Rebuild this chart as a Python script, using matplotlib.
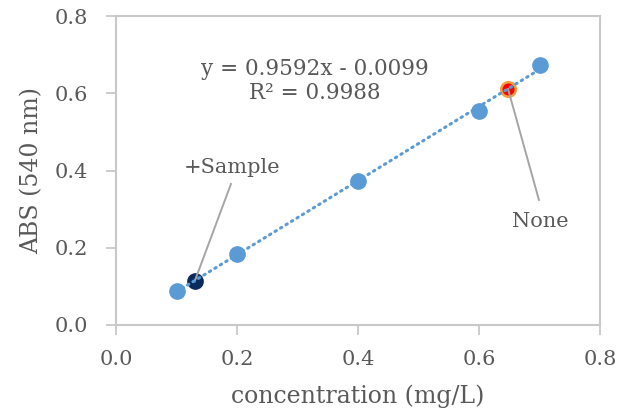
import matplotlib
matplotlib.use("Agg")
import matplotlib.pyplot as plt
import numpy as np

plt.rcParams['font.family'] = ['DejaVu Serif']

conc = [0.1, 0.2, 0.4, 0.6, 0.7]
absb = [0.088, 0.184, 0.373, 0.554, 0.673]
sample_x, sample_y = [0.13], [0.113]
none_x, none_y = [0.648], [0.611]
slope, intercept = 0.9592, -0.0099
eq_text = "y = 0.9592x - 0.0099\nR² = 0.9988"
xticks = [0.0, 0.2, 0.4, 0.6, 0.8]
yticks = [0.0, 0.2, 0.4, 0.6, 0.8]

blue = '#5B9BD5'
textc = '#595959'
gridc = '#C8C8C8'

fig = plt.figure(figsize=(6.3, 4.12), dpi=100)
ax = fig.add_axes([116/630, (412-325)/412, (600-116)/630, (325-16)/412])

ax.plot(conc, absb, 'o', color=blue, markersize=11, zorder=3)
ax.plot(sample_x, sample_y, 'o', color='#0B2A5C', markersize=11, zorder=3)
ax.plot(none_x, none_y, 'o', color='#FF0000', markeredgecolor='#F4A040',
        markeredgewidth=1.8, markersize=10.5, zorder=3)

# leader lines
ax.plot([0.190, sample_x[0]], [0.365, sample_y[0]], color='#A5A5A5', lw=1.4, zorder=3.5)
ax.plot([0.699, none_x[0]], [0.324, none_y[0]], color='#A5A5A5', lw=1.4, zorder=3.5)

tx = np.array([min(conc), max(conc)])
ax.plot(tx, slope*tx + intercept, color=blue, linewidth=2.2,
        linestyle=(0, (0.5, 1.6)), dash_capstyle='round', zorder=4)

ax.text(0.192, 0.409, '+Sample', ha='center', va='center', fontsize=15, color=textc)
ax.text(0.701, 0.267, 'None', ha='center', va='center', fontsize=15, color=textc)

ax.text(0.329, 0.632, eq_text, ha='center', va='center', fontsize=15.5,
        color=textc, linespacing=1.1)

ax.set_xlim(0, 0.8)
ax.set_ylim(0, 0.8)
ax.set_xticks(xticks)
ax.set_yticks(yticks)
ax.set_xticklabels([f"{v:.1f}" for v in xticks])
ax.set_yticklabels([f"{v:.1f}" for v in yticks])
for s in ax.spines.values():
    s.set_color(gridc)
    s.set_linewidth(1.5)
ax.tick_params(direction='out', length=7, width=1.3, color=gridc,
               labelcolor=textc, labelsize=15)
ax.tick_params(axis='y', pad=13)
ax.tick_params(axis='x', pad=11)
ax.set_xlabel('concentration (mg/L)', fontsize=17, color=textc, labelpad=11)
ax.set_ylabel('ABS (540 nm)', fontsize=17, color=textc, labelpad=8)

fig.savefig('out.png', dpi=100)
